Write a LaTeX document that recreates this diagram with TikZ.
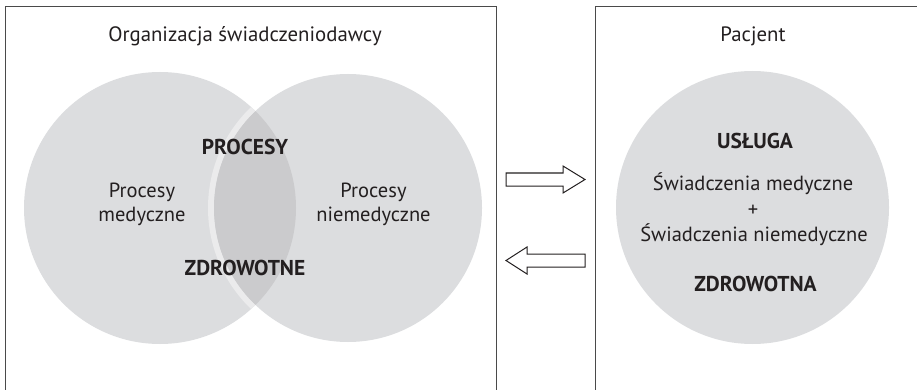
\documentclass[tikz,border=0pt]{standalone}
\usepackage{fontspec}
\setmainfont{PT Sans}
\definecolor{circlefill}{HTML}{DCDDDF}
\definecolor{lensfill}{HTML}{CBCBCD}
\definecolor{seam}{HTML}{EBEBEC}
\definecolor{ink}{HTML}{231F20}
\definecolor{frame}{HTML}{4A4A4A}
\tikzset{
  panel/.style={draw=frame, line width=1.3pt, inner sep=0pt},
  label/.style={text=ink, font=\fontsize{20.5}{22}\selectfont, anchor=base, inner sep=0pt},
  title/.style={label, font=\fontsize{20.8}{22}\selectfont},
  heading/.style={label, font=\bfseries\fontsize{21.5}{22}\selectfont},
  blockarrow/.style={draw=ink, line width=1pt, fill=white, line join=miter},
}
\begin{document}
\begin{tikzpicture}[x=1pt, y=-1pt]
\useasboundingbox (0,0) rectangle (917,390);
\clip (0,0) rectangle (917,390);

% two panels (their lower edges run past the page)
\node[panel, anchor=north west, minimum width=491pt, minimum height=400pt] (org) at (5,6) {};
\node[panel, anchor=north west, minimum width=340pt, minimum height=400pt] (pat) at (595,6) {};

% Venn diagram of the provider's processes
\coordinate (cmed) at (160,208);
\coordinate (cnon) at (348,208);
\fill[circlefill] (cmed) circle[radius=136];
\fill[circlefill] (cnon) circle[radius=134];
\begin{scope}
  \clip (cmed) circle[radius=136];
  \draw[seam, line width=6pt] (cnon) circle[radius=137];
  \fill[lensfill] (cnon) circle[radius=134];
\end{scope}

% patient's circle
\coordinate (cpat) at (752.5,207.5);
\fill[circlefill] (cpat) circle[radius=136.5];

% texts
\node[title] (orgname) at (245,42) {Organizacja świadczeniodawcy};
\node[title] (patname) at (753,42) {Pacjent};

\node[heading] (proc) at (245,154) {PROCESY};
\node[heading] (zdr) at (245,275) {ZDROWOTNE};
\node[label] (med1) at (142,197) {Procesy};
\node[label] (med2) at (142,221) {medyczne};
\node[label] (non1) at (373.5,197) {Procesy};
\node[label] (non2) at (373.5,221) {niemedyczne};

\node[heading] (usl) at (755,149) {USŁUGA};
\node[label] (sw1) at (753,190) {Świadczenia medyczne};
\node[label] (plus) at (753,216) {+};
\node[label] (sw2) at (754,241) {Świadczenia niemedyczne};
\node[heading] (zdra) at (755.5,291) {ZDROWOTNA};

% block arrows between the panels
\coordinate (ra) at (506,179.5);
\coordinate (la) at (585,260.5);
\draw[blockarrow] (ra) ++(0,-6.5) -- ++(57,0) -- ++(0,-7) -- ++(22,13.5) -- ++(-22,13.5) -- ++(0,-7) -- ++(-57,0) -- cycle;
\draw[blockarrow] (la) ++(0,-6.5) -- ++(-58,0) -- ++(0,-7) -- ++(-21,13.5) -- ++(21,13.5) -- ++(0,-7) -- ++(58,0) -- cycle;
\end{tikzpicture}
\end{document}
